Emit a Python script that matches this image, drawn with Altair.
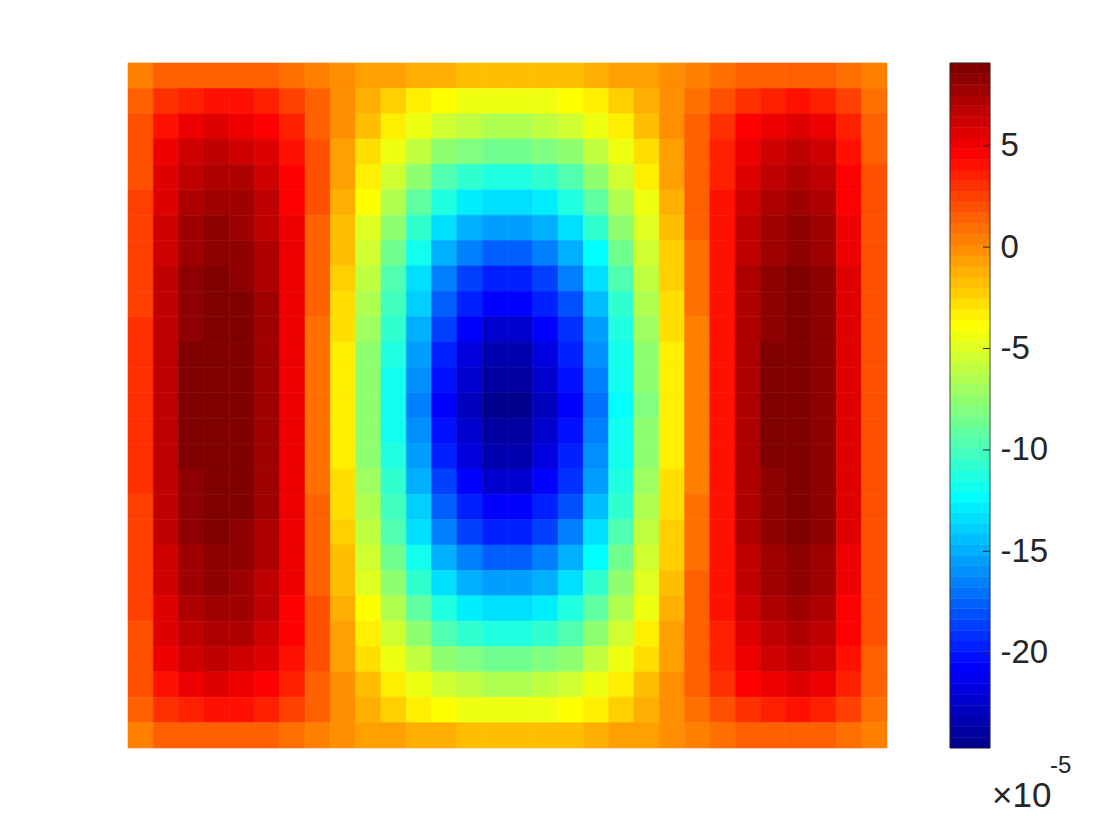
import altair as alt
import pandas as pd

# ---------------- data (values x 1e-5) ----------------
# one list per grid row, top row first; 30 cells from left to right
row_01 = [0.5, 1.2, 1.5, 1.5, 1.5, 1.3, 1.0, 0.5, 0.0, -0.5, -0.8, -1.1, -1.4, -1.6, -1.7, -1.7, -1.6, -1.5, -1.2, -0.9, -0.5, 0.0, 0.4, 0.9, 1.3, 1.5, 1.5, 1.4, 1.0, 0.4]
row_02 = [1.2, 3.0, 3.8, 4.0, 3.9, 3.4, 2.5, 1.2, -0.1, -1.3, -2.3, -3.1, -3.9, -4.4, -4.6, -4.6, -4.4, -4.0, -3.2, -2.3, -1.4, -0.2, 1.0, 2.2, 3.2, 3.8, 4.0, 3.7, 2.5, 1.0]
row_03 = [1.7, 4.1, 5.2, 5.4, 5.3, 4.6, 3.4, 1.5, -0.3, -1.9, -3.2, -4.4, -5.6, -6.2, -6.6, -6.6, -6.2, -5.6, -4.5, -3.3, -1.9, -0.3, 1.3, 3.0, 4.4, 5.2, 5.4, 5.0, 3.4, 1.3]
row_04 = [2.0, 4.9, 6.2, 6.5, 6.3, 5.5, 4.0, 1.7, -0.5, -2.6, -4.3, -5.9, -7.4, -8.3, -8.8, -8.8, -8.3, -7.5, -6.0, -4.4, -2.6, -0.5, 1.5, 3.5, 5.3, 6.2, 6.5, 6.0, 4.0, 1.6]
row_05 = [2.2, 5.4, 6.9, 7.2, 7.0, 6.1, 4.4, 1.7, -0.9, -3.3, -5.5, -7.5, -9.5, -10.6, -11.2, -11.2, -10.6, -9.6, -7.7, -5.6, -3.4, -0.9, 1.4, 3.8, 5.9, 6.9, 7.2, 6.7, 4.5, 1.8]
row_06 = [2.4, 5.8, 7.4, 7.7, 7.6, 6.6, 4.7, 1.7, -1.2, -4.0, -6.5, -9.0, -11.3, -12.6, -13.4, -13.4, -12.6, -11.4, -9.2, -6.7, -4.2, -1.3, 1.3, 4.0, 6.3, 7.4, 7.7, 7.2, 4.8, 1.9]
row_07 = [2.5, 6.1, 7.7, 8.1, 7.9, 6.9, 4.9, 1.6, -1.7, -4.8, -7.6, -10.5, -13.2, -14.7, -15.6, -15.6, -14.7, -13.3, -10.8, -7.8, -4.9, -1.7, 1.2, 4.1, 6.6, 7.7, 8.1, 7.6, 5.0, 2.0]
row_08 = [2.6, 6.3, 8.0, 8.4, 8.2, 7.1, 5.0, 1.4, -2.0, -5.4, -8.6, -11.8, -14.8, -16.6, -17.6, -17.6, -16.6, -15.0, -12.1, -8.8, -5.6, -2.1, 1.0, 4.2, 6.8, 8.0, 8.4, 7.8, 5.2, 2.0]
row_09 = [2.7, 6.5, 8.3, 8.6, 8.4, 7.3, 5.1, 1.3, -2.4, -6.1, -9.5, -13.1, -16.5, -18.4, -19.5, -19.5, -18.4, -16.6, -13.4, -9.8, -6.2, -2.5, 0.8, 4.3, 7.0, 8.3, 8.6, 8.1, 5.4, 2.1]
row_10 = [2.7, 6.7, 8.4, 8.8, 8.6, 7.5, 5.2, 1.2, -2.7, -6.6, -10.2, -14.1, -17.7, -19.8, -21.0, -21.0, -19.8, -17.9, -14.4, -10.5, -6.7, -2.8, 0.7, 4.3, 7.1, 8.4, 8.8, 8.2, 5.5, 2.2]
row_11 = [2.8, 6.7, 8.5, 8.9, 8.7, 7.5, 5.2, 1.0, -2.9, -7.0, -10.8, -14.9, -18.7, -20.9, -22.2, -22.2, -20.9, -18.9, -15.3, -11.1, -7.1, -3.0, 0.6, 4.3, 7.2, 8.5, 8.9, 8.3, 5.5, 2.2]
row_12 = [2.8, 6.8, 8.6, 9.0, 8.8, 7.6, 5.2, 1.0, -3.1, -7.3, -11.3, -15.6, -19.6, -21.9, -23.2, -23.2, -21.9, -19.8, -16.0, -11.6, -7.5, -3.2, 0.5, 4.3, 7.2, 8.6, 9.0, 8.4, 5.6, 2.2]
row_13 = [2.8, 6.8, 8.6, 9.0, 8.8, 7.6, 5.2, 0.9, -3.3, -7.5, -11.7, -16.1, -20.2, -22.5, -23.9, -23.9, -22.5, -20.4, -16.5, -12.0, -7.7, -3.4, 0.4, 4.2, 7.2, 8.6, 9.0, 8.4, 5.6, 2.2]
row_14 = [2.8, 6.8, 8.6, 9.0, 8.8, 7.6, 5.2, 0.8, -3.4, -7.7, -11.9, -16.4, -20.6, -23.0, -24.4, -24.4, -23.0, -20.8, -16.8, -12.2, -7.9, -3.5, 0.3, 4.2, 7.2, 8.6, 9.0, 8.4, 5.6, 2.2]
row_15 = [2.8, 6.8, 8.6, 9.0, 8.8, 7.6, 5.2, 0.9, -3.3, -7.5, -11.7, -16.1, -20.2, -22.5, -23.9, -23.9, -22.5, -20.4, -16.5, -12.0, -7.7, -3.4, 0.4, 4.2, 7.2, 8.6, 9.0, 8.4, 5.6, 2.2]
row_16 = [2.8, 6.8, 8.6, 9.0, 8.8, 7.6, 5.2, 1.0, -3.1, -7.3, -11.3, -15.6, -19.6, -21.9, -23.2, -23.2, -21.9, -19.8, -16.0, -11.6, -7.5, -3.2, 0.5, 4.3, 7.2, 8.6, 9.0, 8.4, 5.6, 2.2]
row_17 = [2.8, 6.7, 8.5, 8.9, 8.7, 7.5, 5.2, 1.0, -2.9, -7.0, -10.8, -14.9, -18.7, -20.9, -22.2, -22.2, -20.9, -18.9, -15.3, -11.1, -7.1, -3.0, 0.6, 4.3, 7.2, 8.5, 8.9, 8.3, 5.5, 2.2]
row_18 = [2.7, 6.7, 8.4, 8.8, 8.6, 7.5, 5.2, 1.2, -2.7, -6.6, -10.2, -14.1, -17.7, -19.8, -21.0, -21.0, -19.8, -17.9, -14.4, -10.5, -6.7, -2.8, 0.7, 4.3, 7.1, 8.4, 8.8, 8.2, 5.5, 2.2]
row_19 = [2.7, 6.5, 8.3, 8.6, 8.4, 7.3, 5.1, 1.3, -2.4, -6.1, -9.5, -13.1, -16.5, -18.4, -19.5, -19.5, -18.4, -16.6, -13.4, -9.8, -6.2, -2.5, 0.8, 4.3, 7.0, 8.3, 8.6, 8.1, 5.4, 2.1]
row_20 = [2.6, 6.3, 8.0, 8.4, 8.2, 7.1, 5.0, 1.4, -2.0, -5.4, -8.6, -11.8, -14.8, -16.6, -17.6, -17.6, -16.6, -15.0, -12.1, -8.8, -5.6, -2.1, 1.0, 4.2, 6.8, 8.0, 8.4, 7.8, 5.2, 2.0]
row_21 = [2.5, 6.1, 7.7, 8.1, 7.9, 6.9, 4.9, 1.6, -1.7, -4.8, -7.6, -10.5, -13.2, -14.7, -15.6, -15.6, -14.7, -13.3, -10.8, -7.8, -4.9, -1.7, 1.2, 4.1, 6.6, 7.7, 8.1, 7.6, 5.0, 2.0]
row_22 = [2.4, 5.8, 7.4, 7.7, 7.6, 6.6, 4.7, 1.7, -1.2, -4.0, -6.5, -9.0, -11.3, -12.6, -13.4, -13.4, -12.6, -11.4, -9.2, -6.7, -4.2, -1.3, 1.3, 4.0, 6.3, 7.4, 7.7, 7.2, 4.8, 1.9]
row_23 = [2.2, 5.4, 6.9, 7.2, 7.0, 6.1, 4.4, 1.7, -0.9, -3.3, -5.5, -7.5, -9.5, -10.6, -11.2, -11.2, -10.6, -9.6, -7.7, -5.6, -3.4, -0.9, 1.4, 3.8, 5.9, 6.9, 7.2, 6.7, 4.5, 1.8]
row_24 = [2.0, 4.9, 6.2, 6.5, 6.3, 5.5, 4.0, 1.7, -0.5, -2.6, -4.3, -5.9, -7.4, -8.3, -8.8, -8.8, -8.3, -7.5, -6.0, -4.4, -2.6, -0.5, 1.5, 3.5, 5.3, 6.2, 6.5, 6.0, 4.0, 1.6]
row_25 = [1.7, 4.1, 5.2, 5.4, 5.3, 4.6, 3.4, 1.5, -0.3, -1.9, -3.2, -4.4, -5.6, -6.2, -6.6, -6.6, -6.2, -5.6, -4.5, -3.3, -1.9, -0.3, 1.3, 3.0, 4.4, 5.2, 5.4, 5.0, 3.4, 1.3]
row_26 = [1.2, 3.0, 3.8, 4.0, 3.9, 3.4, 2.5, 1.2, -0.1, -1.3, -2.3, -3.1, -3.9, -4.4, -4.6, -4.6, -4.4, -4.0, -3.2, -2.3, -1.4, -0.2, 1.0, 2.2, 3.2, 3.8, 4.0, 3.7, 2.5, 1.0]
row_27 = [0.5, 1.2, 1.5, 1.5, 1.5, 1.3, 1.0, 0.5, 0.0, -0.5, -0.8, -1.1, -1.4, -1.6, -1.7, -1.7, -1.6, -1.5, -1.2, -0.9, -0.5, 0.0, 0.4, 0.9, 1.3, 1.5, 1.5, 1.4, 1.0, 0.4]

colorbar_ticks = [-20, -15, -10, -5, 0, 5]
color_limits = [-24.70, 9.08]
exponent_base = "\u00d710"
exponent_power = "-5"

# ---------------- build tables ----------------
field_rows = [row_01, row_02, row_03, row_04, row_05, row_06, row_07, row_08, row_09,
              row_10, row_11, row_12, row_13, row_14, row_15, row_16, row_17, row_18,
              row_19, row_20, row_21, row_22, row_23, row_24, row_25, row_26, row_27]
n_rows = len(field_rows)
n_cols = len(field_rows[0])

recs = []
for j, row in enumerate(field_rows):
    for i, v in enumerate(row):
        recs.append({"x0": i, "x1": i + 1, "y0": j, "y1": j + 1, "v": v})
field_df = pd.DataFrame(recs)


def jet(m=64):
    n = -(-m // 4)
    u = [k / n for k in range(1, n + 1)] + [1.0] * (n - 1) + [k / n for k in range(n, 0, -1)]
    g0 = -(-n // 2) - (1 if m % 4 == 1 else 0)
    cols = [[0.0, 0.0, 0.0] for _ in range(m)]
    for idx, val in enumerate(u):
        g = g0 + idx + 1
        r = g + n
        b = g - n
        if 1 <= r <= m:
            cols[r - 1][0] = val
        if 1 <= g <= m:
            cols[g - 1][1] = val
        if 1 <= b <= m:
            cols[b - 1][2] = val
    return ["#%02x%02x%02x" % tuple(int(round(c * 255)) for c in col) for col in cols]


JET = jet(64)
vmin, vmax = color_limits
step = (vmax - vmin) / len(JET)
cb_df = pd.DataFrame({
    "lo": [vmin + k * step for k in range(len(JET))],
    "hi": [vmin + (k + 1) * step for k in range(len(JET))],
    "c": JET,
})
tick_df = pd.DataFrame({"t": colorbar_ticks})
one_df = pd.DataFrame({"a": [0]})

FONT = "Liberation Sans"
INK = "#262626"
PLOT_W, PLOT_H = 759, 685
CB_W = 40

color_scale = alt.Scale(type="quantize", domain=color_limits, range=JET)

heat = alt.Chart(field_df).mark_rect(strokeWidth=0.6).encode(
    x=alt.X("x0:Q", scale=alt.Scale(domain=[0, n_cols], nice=False, zero=False), axis=None),
    x2="x1:Q",
    y=alt.Y("y0:Q", scale=alt.Scale(domain=[0, n_rows], nice=False, zero=False, reverse=True), axis=None),
    y2="y1:Q",
    color=alt.Color("v:Q", scale=color_scale, legend=None),
    stroke=alt.Stroke("v:Q", scale=color_scale, legend=None),
).properties(width=PLOT_W, height=PLOT_H)

cb_scale = alt.Scale(domain=color_limits, nice=False, zero=False)
cb_axis = alt.Axis(orient="right", values=colorbar_ticks, ticks=False, domain=False, grid=False,
                   labelFont=FONT, labelFontSize=33, labelColor=INK, labelPadding=10,
                   labelBaseline="middle", labelExpr="'' + datum.value", title=None)

bar = alt.Chart(cb_df).mark_rect(strokeWidth=0.5).encode(
    x=alt.value(0), x2=alt.value(CB_W),
    y=alt.Y("lo:Q", scale=cb_scale, axis=cb_axis),
    y2="hi:Q",
    color=alt.Color("c:N", scale=None),
    stroke=alt.Stroke("c:N", scale=None),
)

tick_marks = alt.Chart(tick_df).mark_rule(color=INK, strokeWidth=1).encode(
    x=alt.value(CB_W - 7), x2=alt.value(CB_W),
    y=alt.Y("t:Q", scale=cb_scale, axis=cb_axis),
)

outline = alt.Chart(one_df).mark_rect(fillOpacity=0, stroke=INK, strokeWidth=0.8).encode(
    x=alt.value(0), x2=alt.value(CB_W), y=alt.value(0), y2=alt.value(PLOT_H),
)

exp_base = alt.Chart(one_df).mark_text(align="left", baseline="alphabetic", font=FONT,
                                       fontSize=35, color=INK).encode(
    x=alt.value(42), y=alt.value(744), text=alt.value(exponent_base),
)
exp_pow = alt.Chart(one_df).mark_text(align="left", baseline="alphabetic", font=FONT,
                                      fontSize=24, color=INK).encode(
    x=alt.value(100), y=alt.value(710), text=alt.value(exponent_power),
)

colorbar = alt.layer(bar, tick_marks, outline, exp_base, exp_pow).properties(width=CB_W, height=PLOT_H)

chart = alt.hconcat(heat, colorbar, spacing=61).properties(
    padding={"left": 119, "top": 54, "right": 5, "bottom": 5},
    background="white",
).configure_view(strokeWidth=0)

chart.save("out.html", embed_options={"renderer": "svg", "actions": False})
